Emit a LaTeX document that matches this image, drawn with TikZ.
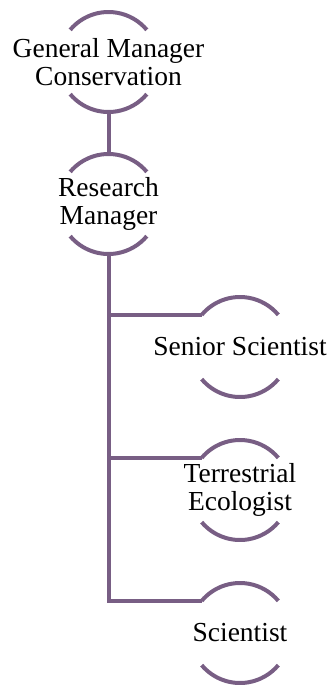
\documentclass[tikz,border=0pt]{standalone}
\usepackage{fontspec}
\setmainfont{Liberation Serif}
\definecolor{pp}{RGB}{120,94,132}
\begin{document}
\begin{tikzpicture}[x=1pt,y=1pt,
  lbl/.style={align=center,inner sep=0pt,font=\fontsize{27.5}{28}\selectfont,text=black},
  arcl/.style={draw=pp,line width=4pt},
  conn/.style={draw=pp,line width=4pt}]
\useasboundingbox (0,0) rectangle (332,-686);
\node[lbl] (gm) at (108.5,-62) {General Manager\\Conservation};
\node[lbl] (rm) at (108.5,-204) {Research\\Manager};
\node[lbl] (ss) at (240,-347) {Senior Scientist};
\node[lbl] (te) at (240,-490) {Terrestrial\\Ecologist};
\node[lbl] (sc) at (240,-633) {Scientist};
\foreach \n in {gm,rm,ss,te,sc}{
  \draw[arcl] ([shift={(140:50pt)}]\n.center) arc[start angle=140,end angle=40,radius=50pt];
  \draw[arcl] ([shift={(220:50pt)}]\n.center) arc[start angle=220,end angle=320,radius=50pt];
}
\draw[conn] ([shift={(270:50pt)}]gm.center) -- ([shift={(90:50pt)}]rm.center);
\draw[conn] ([shift={(270:50pt)}]rm.center) |- ([shift={(140:50pt)}]ss.center);
\draw[conn] ([shift={(270:50pt)}]rm.center) |- ([shift={(140:50pt)}]te.center);
\draw[conn] ([shift={(270:50pt)}]rm.center) |- ([shift={(140:50pt)}]sc.center);
\end{tikzpicture}
\end{document}
